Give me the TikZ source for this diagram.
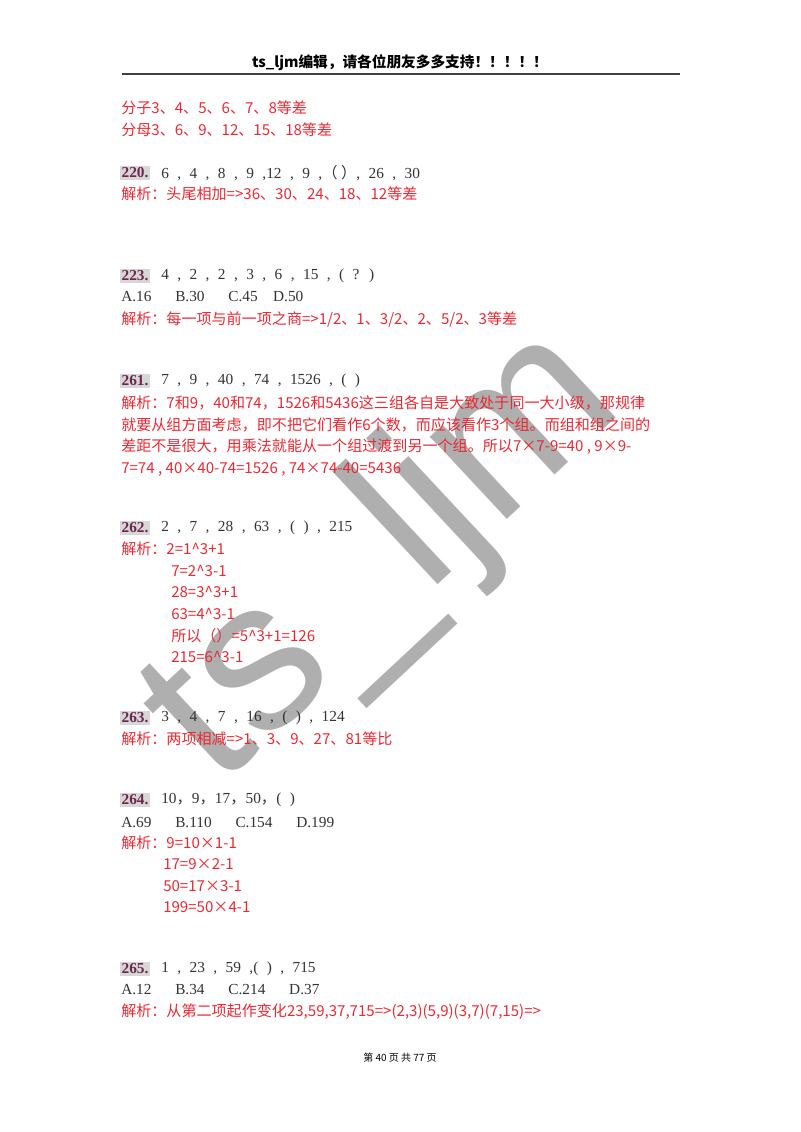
\documentclass[tikz,border=0pt]{standalone}
\usepackage{fontspec}
\setmainfont{Noto Sans CJK SC}
\newfontfamily\cjk{Noto Sans CJK SC}
\newfontfamily\wmfont{Liberation Sans}
\newfontfamily\numfont[WordSpace=2.2]{Liberation Serif}
\definecolor{ans}{RGB}{235,40,50}
\definecolor{qn}{RGB}{110,40,80}
\definecolor{hl}{RGB}{215,215,215}
\definecolor{wm}{RGB}{175,175,175}
\begin{document}
\begin{tikzpicture}[x=0.75pt,y=-0.75pt,
  t/.style={anchor=west,inner sep=0pt,font=\fontsize{11.3}{12}\selectfont},
  a/.style={t,text=ans},
  q/.style={anchor=west,inner sep=0pt,text=black!80,font=\numfont\fontsize{11.5}{12}\selectfont},
  n/.style={anchor=west,inner sep=1pt,fill=hl,text=qn,font=\numfont\fontsize{11.5}{12}\selectfont\bfseries}]
\useasboundingbox (0,0) rectangle (800,1132);
\node[text=wm,rotate=43,font=\wmfont\fontsize{160}{160}\selectfont,inner sep=0pt] (wm) at (385,558) {ts\_ljm};
\node[font=\fontsize{11}{12}\selectfont\bfseries,inner sep=0pt] (hd) at (400,63) {ts\_ljm编辑，请各位朋友多多支持！！！！！};
\coordinate (r1) at (122,74); \coordinate (r2) at (680,74);
\draw[line width=1pt,black!75] (r1) -- (r2);
\node[a] (l1) at (121,108) {分子3、4、5、6、7、8等差};
\node[a] (l2) at (121,130) {分母3、6、9、12、15、18等差};
\node[n] (n220) at (120,173) {220.};
\node[q] (q220) at (161,173) {6 , 4 , 8 , 9 ,12 , 9 ,{\cjk （ ）}, 26 , 30};
\node[a] (a220) at (121,194) {解析：头尾相加=>36、30、24、18、12等差};
\node[n] (n223) at (120,276) {223.};
\node[q] (q223) at (161,276) {4 , 2 , 2 , 3 , 6 , 15 , ( ? )};
\node[q] (o223) at (121,297) {A.16\quad\ B.30\quad\ C.45\quad D.50};
\node[a] (a223) at (121,319) {解析：每一项与前一项之商=>1/2、1、3/2、2、5/2、3等差};
\node[n] (n261) at (120,381) {261.};
\node[q] (q261) at (161,381) {7 , 9 , 40 , 74 , 1526 , ( )};
\node[a] (a261a) at (121,403) {解析：7和9，40和74，1526和5436这三组各自是大致处于同一大小级，那规律};
\node[a] (a261b) at (121,425) {就要从组方面考虑，即不把它们看作6个数，而应该看作3个组。而组和组之间的};
\node[a] (a261c) at (121,447) {差距不是很大，用乘法就能从一个组过渡到另一个组。所以7×7-9=40 , 9×9-};
\node[a] (a261d) at (121,469) {7=74 , 40×40-74=1526 , 74×74-40=5436};
\node[n] (n262) at (120,528) {262.};
\node[q] (q262) at (161,528) {2 , 7 , 28 , 63 , ( ) , 215};
\node[a] (a262) at (121,549) {解析：2=1\^{}3+1};
\node[a] (a262b) at (171,571) {7=2\^{}3-1};
\node[a] (a262c) at (171,592) {28=3\^{}3+1};
\node[a] (a262d) at (171,614) {63=4\^{}3-1};
\node[a] (a262e) at (171,636) {所以（）=5\^{}3+1=126};
\node[a] (a262f) at (171,657) {215=6\^{}3-1};
\node[n] (n263) at (120,718) {263.};
\node[q] (q263) at (161,718) {3 , 4 , 7 , 16 , ( ) , 124};
\node[a] (a263) at (121,739) {解析：两项相减=>1、3、9、27、81等比};
\node[n] (n264) at (120,800) {264.};
\node[q] (q264) at (161,800) {10{\cjk ，}9{\cjk ，}17{\cjk ，}50{\cjk ，}( )};
\node[q] (o264) at (121,822) {A.69\quad\ B.110\quad\ C.154\quad\ D.199};
\node[a] (a264) at (121,843) {解析：9=10×1-1};
\node[a] (a264b) at (163,864) {17=9×2-1};
\node[a] (a264c) at (163,886) {50=17×3-1};
\node[a] (a264d) at (163,907) {199=50×4-1};
\node[n] (n265) at (120,969) {265.};
\node[q] (q265) at (161,969) {1 , 23 , 59 ,( ) , 715};
\node[q] (o265) at (121,990) {A.12\quad\ B.34\quad\ C.214\quad\ D.37};
\node[a] (a265) at (121,1012) {解析：从第二项起作变化23,59,37,715=>(2,3)(5,9)(3,7)(7,15)=>};
\node[font=\fontsize{7.5}{9}\selectfont,inner sep=0pt] (ft) at (400,1058) {第 40 页 共 77 页};
\end{tikzpicture}
\end{document}
